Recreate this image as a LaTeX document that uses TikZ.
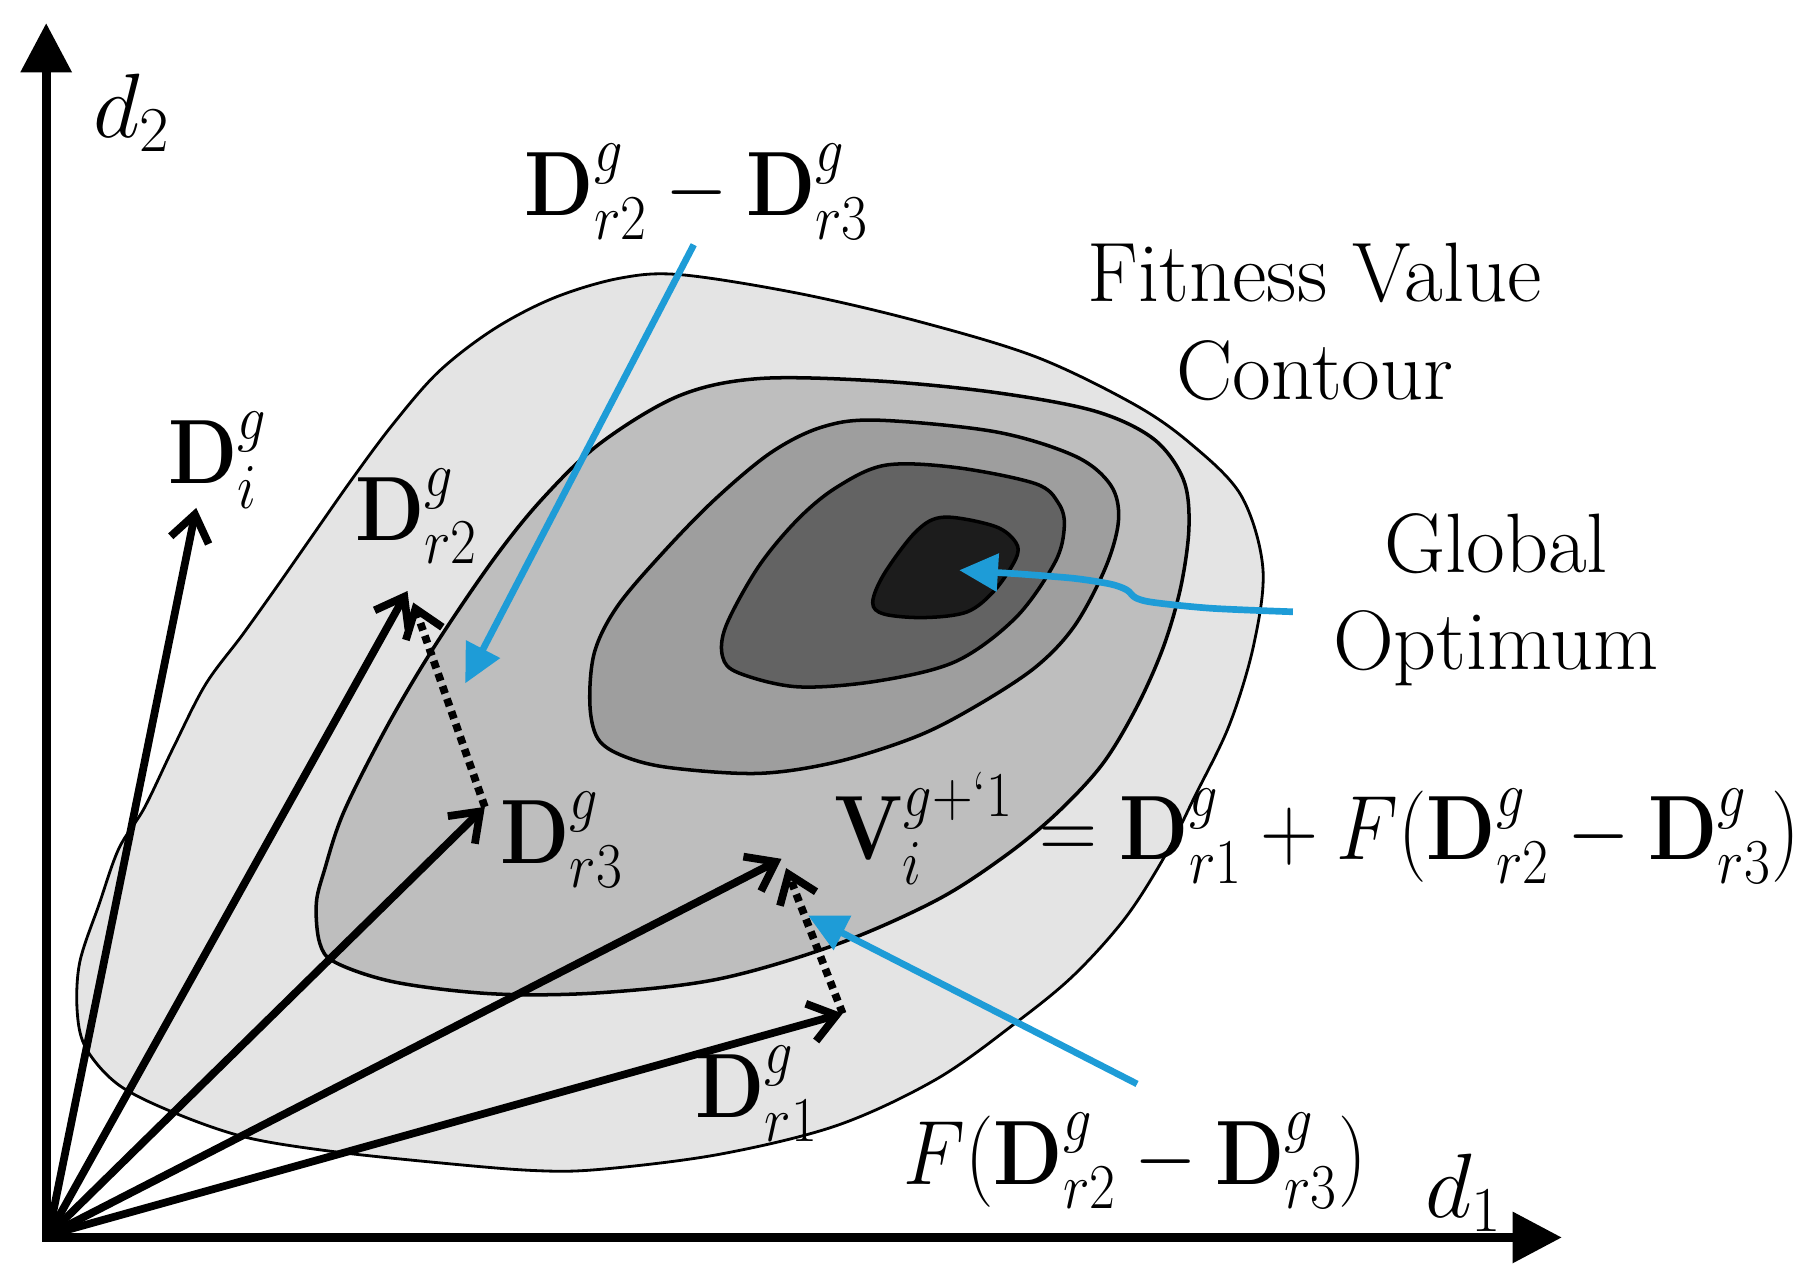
\RequirePackage{fix-cm}
\documentclass[tikz,border=0pt]{standalone}
\usepackage{amsmath}
\usepackage{graphicx}
\usepackage{xcolor}
\usetikzlibrary{arrows.meta}
\definecolor{lev1}{HTML}{E4E4E4}
\definecolor{lev2}{HTML}{BEBEBE}
\definecolor{lev3}{HTML}{9E9E9E}
\definecolor{lev4}{HTML}{636363}
\definecolor{lev5}{HTML}{1C1C1C}
\definecolor{pointer}{HTML}{1E9CD7}
\newcommand{\squeezed}[1]{\scalebox{0.88}[1]{$#1$}}

\begin{document}
\begin{tikzpicture}[x=0.11543mm, y=-0.11543mm,
    axis/.style={line width=2.5pt, {Triangle[length=14pt,width=14pt]}-{Triangle[length=14pt,width=14pt]}},
    vec/.style={line width=2.2pt, -{Straight Barb[length=7.5pt,width=11pt]}},
    diffvec/.style={vec, dash pattern=on 2.2pt off 1.6pt},
    hint/.style={pointer, line width=1.9pt, -{Triangle[length=11pt,width=10.5pt]}},
    contour/.style={draw=black, line width=1pt},
    lbl/.style={anchor=base west, inner sep=0pt, font=\fontsize{26}{30}\selectfont},
    txt/.style={anchor=base, inner sep=0pt, font=\fontsize{24}{28}\selectfont}]
  \useasboundingbox (0,0) rectangle (1568,1114);

  % fitness contours, outer to inner
  \filldraw[contour, line width=0.8pt, fill=lev1] plot[smooth cycle, tension=0.55] coordinates {
    (590,238) (691,254) (794,278) (897,309) (982,350) (1031,384) (1075,429)
    (1094,492) (1086,559) (1065,628) (1035,690) (1010,740) (975,795) (930,845)
    (880,886) (811,935) (725,975) (623,1000) (520,1013) (462,1014) (377,1007)
    (284,997) (212,985) (151,964) (103,940) (75,909) (67,878) (69,834) (86,783)
    (103,735) (125,700) (150,648) (178,593) (210,550) (240,508) (270,465)
    (305,415) (340,368) (380,322) (428,285) (480,258) (537,241)};
  \filldraw[contour, fill=lev2] plot[smooth cycle, tension=0.55] coordinates {
    (520,384) (588,343) (657,328) (760,330) (862,340) (948,356) (999,380)
    (1025,415) (1030,456) (1023,508) (1008,560) (985,612) (955,662) (915,705)
    (870,742) (811,780) (725,818) (623,848) (520,860) (428,861) (343,851)
    (291,834) (277,817) (274,783) (281,754) (298,703) (336,628) (377,559)
    (428,484) (470,432)};
  \filldraw[contour, fill=lev3] plot[smooth cycle, tension=0.55] coordinates {
    (511,610) (518,640) (540,655) (580,665) (657,670) (725,660) (794,638)
    (845,612) (897,578) (931,542) (958,491) (969,450) (962,420) (931,395)
    (862,374) (760,364) (712,370) (668,392) (620,432) (575,478) (535,525)
    (515,565)};
  \filldraw[contour, fill=lev4] plot[smooth cycle, tension=0.55] coordinates {
    (640,583) (626,569) (629,542) (657,491) (691,450) (725,422) (767,403)
    (828,405) (897,419) (917,436) (922,456) (914,487) (880,535) (828,573)
    (760,590) (691,595)};
  \filldraw[contour, fill=lev5] plot[smooth cycle, tension=0.55] coordinates {
    (756,522) (766,497) (794,460) (818,448) (862,456) (880,470) (880,484)
    (862,511) (838,530) (801,535) (766,532)};

  % axes
  \coordinate (ytip) at (40,20);
  \coordinate (xtip) at (1353,1072);
  \draw[axis] (ytip) |- (xtip);

  % vectors
  \coordinate (O) at (42,1070);
  \coordinate (Di) at (170,440);
  \coordinate (Dr2) at (353,512);
  \coordinate (Dr3) at (420,699);
  \coordinate (Vi) at (677,744);
  \coordinate (Dr1) at (730,878);
  \coordinate (Dr2b) at (358,522);
  \coordinate (Vib) at (681,752);
  \foreach \p in {Di,Dr2,Dr3,Vi,Dr1}
    \draw[vec] (O) -- (\p);
  \draw[diffvec] (Dr3) -- (Dr2b);
  \draw[diffvec] (Dr1) -- (Vib);

  % pointers
  \coordinate (hTop) at (601,212);
  \coordinate (hTopTip) at (403,592);
  \coordinate (hBot) at (985,939);
  \coordinate (hBotTip) at (700,793);
  \coordinate (hOpt) at (1120,530);
  \coordinate (hOptTip) at (831,494);
  \draw[hint] (hTop) -- (hTopTip);
  \draw[hint] (hBot) -- (hBotTip);
  \draw[hint] plot[smooth, tension=0.5] coordinates {(1120,530) (1050,527) (1000,522)
    (984,518) (976,511) (962,506) (930,501) (880,497)} -- (hOptTip);

  % labels
  \node[lbl] (ld2) at (80,119) {$d_2$};
  \node[lbl] (ld1) at (1234,1055) {$d_1$};
  \node[lbl] (lDi) at (145,419) {\squeezed{\mathbf{D}_i^g}};
  \node[lbl] (lDr2) at (307,468) {\squeezed{\mathbf{D}_{r2}^g}};
  \node[lbl] (lDr3) at (433,748) {\squeezed{\mathbf{D}_{r3}^g}};
  \node[lbl] (lDr1) at (602,968) {\squeezed{\mathbf{D}_{r1}^g}};
  \node[lbl] (lVi) at (722,745) {\squeezed{\mathbf{V}_i^{g+`1}}};
  \node[lbl] (leq) at (900,745) {\squeezed{=\mathbf{D}_{r1}^g+F(\mathbf{D}_{r2}^g-\mathbf{D}_{r3}^g)}};
  \node[lbl] (ldiff) at (454,187) {\squeezed{\mathbf{D}_{r2}^g-\mathbf{D}_{r3}^g}};
  \node[lbl] (lFdiff) at (782,1026) {\squeezed{F(\mathbf{D}_{r2}^g-\mathbf{D}_{r3}^g)}};
  \node[txt] (fit1) at (1139,261) {Fitness Value};
  \node[txt] (fit2) at (1139,346) {Contour};
  \node[txt] (opt1) at (1296,496) {Global};
  \node[txt] (opt2) at (1296,580) {Optimum};
\end{tikzpicture}
\end{document}
